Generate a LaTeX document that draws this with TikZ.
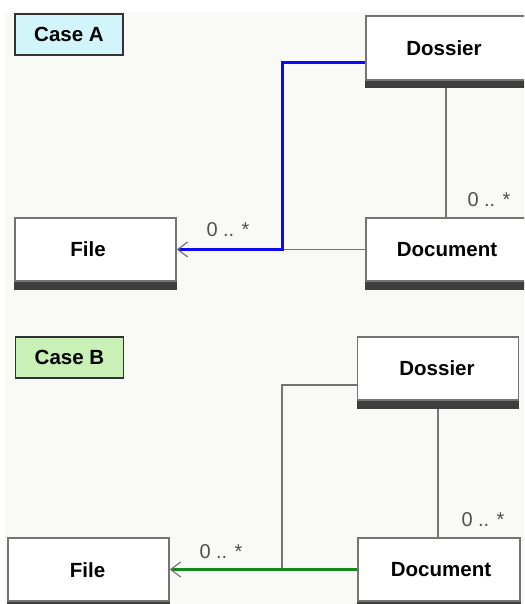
\documentclass[tikz,border=0pt]{standalone}
\usepackage{fontspec}
\setmainfont{Liberation Sans}
\usetikzlibrary{arrows.meta}
\definecolor{paper}{HTML}{F9F9F8}
\definecolor{edgegray}{HTML}{747474}
\definecolor{shade}{HTML}{3E3E3E}
\definecolor{caseA}{HTML}{D2F5FC}
\definecolor{caseB}{HTML}{C9F0B6}
\definecolor{multgray}{HTML}{505050}
\definecolor{linkblue}{HTML}{0A0AF5}
\definecolor{linkgreen}{HTML}{13891A}
\begin{document}
\begin{tikzpicture}[x=1pt,y=-1pt,
  cls/.style={draw=edgegray, line width=1.4pt, fill=white, inner sep=0pt,
    minimum height=63pt},
  clsname/.style={inner sep=0pt, font=\bfseries\fontsize{20.5}{20.5}\selectfont},
  casebox/.style={draw=black!80, line width=1.3pt, inner sep=0pt,
    minimum width=108pt, minimum height=41pt, font=\bfseries\fontsize{20.5}{20.5}\selectfont},
  mult/.style={text=multgray, inner sep=0pt, font=\fontsize{20}{20}\selectfont},
  assoc/.style={draw=edgegray, line width=1.4pt},
  barb/.style={-{Straight Barb[color=edgegray, line width=1.2pt, length=10pt, width=15pt]}},
  shadowband/.style={fill=shade},
]
\useasboundingbox (0,0) rectangle (524,604);
\begin{scope}
\clip (0,0) rectangle (524,604);
\fill[white] (0,0) rectangle (524,604);
\fill[paper] (5,12) rectangle (524,604);

% ---------- Case A ----------
\node[casebox, fill=caseA] (caseA) at (69,34.5) {Case A};

\node[cls, minimum width=160pt, minimum height=64pt] (dosA) at (446,48) {};
\node[clsname] (dosAt) at (444,48) {Dossier};
\node[cls, minimum width=160pt] (docA) at (446,249.5) {};
\node[clsname] (docAt) at (447,249.5) {Document};
\node[cls, minimum width=161pt] (fileA) at (95.5,249.5) {};
\node[clsname] (fileAt) at (88,249.5) {File};

\coordinate (jA) at (282,249.5);
\draw[assoc] (dosA.south) -- (docA.north);
\draw[assoc] (docA.west) -- (jA);
\draw[linkblue, line width=3pt, barb] ([yshift=-15pt]dosA.west) -| (jA) -- (fileA.east);

\fill[shadowband] (dosA.south west) rectangle ([yshift=-7.5pt]dosA.south east);
\fill[shadowband] (docA.south west) rectangle ([yshift=-8pt]docA.south east);
\fill[shadowband] (fileA.south west) rectangle ([yshift=-8pt]fileA.south east);

\node[mult] (mA1) at (228,230) {0 .. *};
\node[mult] (mA2) at (489,200) {0 .. *};

% ---------- Case B ----------
\node[casebox, fill=caseB] (caseB) at (69.5,357.5) {Case B};

\node[cls, minimum width=161pt] (dosB) at (438,368.5) {};
\node[clsname] (dosBt) at (437,368.5) {Dossier};
\node[cls, minimum width=162pt] (docB) at (439,569.5) {};
\node[clsname] (docBt) at (441,570) {Document};
\node[cls, minimum width=161pt] (fileB) at (88.5,569.5) {};
\node[clsname] (fileBt) at (87.5,570) {File};

\coordinate (jB) at (282,568);
\draw[assoc] (dosB.south) -- (dosB.south |- docB.north);
\draw[assoc] ([yshift=-16.5pt]dosB.west) -| (jB);
\draw[linkgreen, line width=3pt, barb] (docB.west) -- (fileB.east);

\fill[shadowband] (dosB.south west) rectangle ([yshift=-8pt]dosB.south east);
\fill[shadowband] (docB.south west) rectangle ([yshift=-8pt]docB.south east);
\fill[shadowband] (fileB.south west) rectangle ([yshift=-8pt]fileB.south east);

\node[mult] (mB1) at (221,552) {0 .. *};
\node[mult] (mB2) at (483,520) {0 .. *};
\end{scope}
\end{tikzpicture}
\end{document}
